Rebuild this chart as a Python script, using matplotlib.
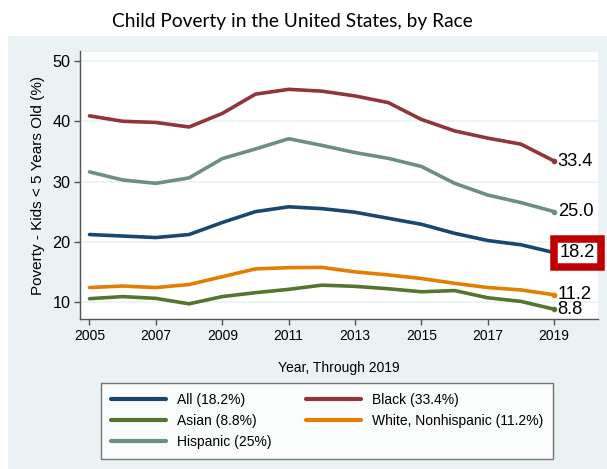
import matplotlib
matplotlib.use("Agg")
import matplotlib.pyplot as plt
from matplotlib.patches import Rectangle

# values
years = list(range(2005, 2020))
all_kids = [21.2, 20.95, 20.7, 21.2, 23.2, 25.0, 25.8, 25.5, 24.9, 23.9, 22.9, 21.4, 20.2, 19.5, 18.2]
black = [40.9, 40.0, 39.8, 39.05, 41.3, 44.5, 45.3, 45.0, 44.2, 43.1, 40.3, 38.4, 37.2, 36.2, 33.4]
asian = [10.55, 10.9, 10.6, 9.7, 10.9, 11.55, 12.1, 12.8, 12.6, 12.2, 11.7, 11.9, 10.7, 10.1, 8.8]
white = [12.4, 12.65, 12.4, 12.9, 14.2, 15.5, 15.7, 15.75, 15.0, 14.5, 13.9, 13.1, 12.4, 12.0, 11.2]
hispanic = [31.6, 30.25, 29.7, 30.6, 33.8, 35.4, 37.1, 36.0, 34.8, 33.85, 32.5, 29.7, 27.75, 26.5, 25.0]

yticks = [10, 20, 30, 40, 50]
xticks = list(range(2005, 2020, 2))

series = [
    ("All (18.2%)", all_kids, "#1a476f"),
    ("Asian (8.8%)", asian, "#55752f"),
    ("Hispanic (25%)", hispanic, "#6e8e84"),
    ("Black (33.4%)", black, "#90353b"),
    ("White, Nonhispanic (11.2%)", white, "#e37e00"),
]

bg = "#eaf2f3"
plt.rcParams["font.family"] = ["Liberation Sans", "DejaVu Sans"]

fig = plt.figure(figsize=(6.07, 4.69), dpi=100)
fig.patches.append(Rectangle((8 / 607, 0), 1, 1 - 36 / 469, transform=fig.transFigure,
                             facecolor=bg, edgecolor="none", zorder=-10))

ax = fig.add_axes([80 / 607, 1 - 319 / 469, (598 - 80) / 607, (319 - 51.5) / 469])
ax.set_facecolor("white")

handles = {}
for label, vals, col in series:
    ln, = ax.plot(years, vals, color=col, lw=2.6, solid_capstyle="round", zorder=3)
    ax.plot(years[-1], vals[-1], "o", color=col, ms=3, zorder=4)
    handles[label] = ln

# end labels, the "All" one boxed in red
for label, vals, col in series:
    txt = "%.1f" % vals[-1]
    kw = {}
    dx = 3.5
    if vals is all_kids:
        kw["bbox"] = dict(boxstyle="square,pad=0.3", fc="white", ec="#c00000", lw=5.4)
        dx = 5.5
    ax.annotate(txt, (years[-1], vals[-1]), xytext=(dx, 0), textcoords="offset pixels",
                ha="left", va="center", fontsize=13.2, color="black",
                annotation_clip=False, zorder=6, **kw)

ax.set_xlim(2004.714, 2020.32)
ax.set_ylim(7.18, 51.58)
ax.set_xticks(xticks)
ax.set_yticks(yticks)
ax.yaxis.grid(True, color=bg, lw=1.2, zorder=0)
ax.set_axisbelow(True)

for s in ["top", "right"]:
    ax.spines[s].set_visible(False)
for s in ["left", "bottom"]:
    ax.spines[s].set_color("#555555")
    ax.spines[s].set_linewidth(1.0)
ax.tick_params(axis="x", length=4, width=1, color="#555555", labelsize=10, pad=3.5)
ax.tick_params(axis="y", length=4, width=1, color="#555555", labelsize=11.7, pad=3)

ax.set_ylabel("Poverty - Kids < 5 Years Old (%)", fontsize=11, labelpad=5)
ax.set_xlabel("Year, Through 2019", fontsize=10, labelpad=13)

fig.text(292.5 / 607, 1 - 22 / 469, "Child Poverty in the United States, by Race",
         ha="center", va="center", fontsize=13.8, family=["Lato", "DejaVu Sans"])

order = ["All (18.2%)", "Asian (8.8%)", "Hispanic (25%)", "Black (33.4%)", "White, Nonhispanic (11.2%)"]
leg = fig.legend([handles[k] for k in order], order, ncol=2, loc="upper left",
                 bbox_to_anchor=(101 / 607, 1 - 383.3 / 469), fontsize=10,
                 handlelength=4.0, handletextpad=0.75, columnspacing=2.5,
                 labelspacing=0.5, borderpad=0.7, borderaxespad=0,
                 fancybox=False, frameon=True)
leg.get_frame().set_edgecolor("#555555")
leg.get_frame().set_linewidth(1.0)
for h in leg.get_lines():
    h.set_linewidth(3)

fig.savefig("out.png", dpi=100)
